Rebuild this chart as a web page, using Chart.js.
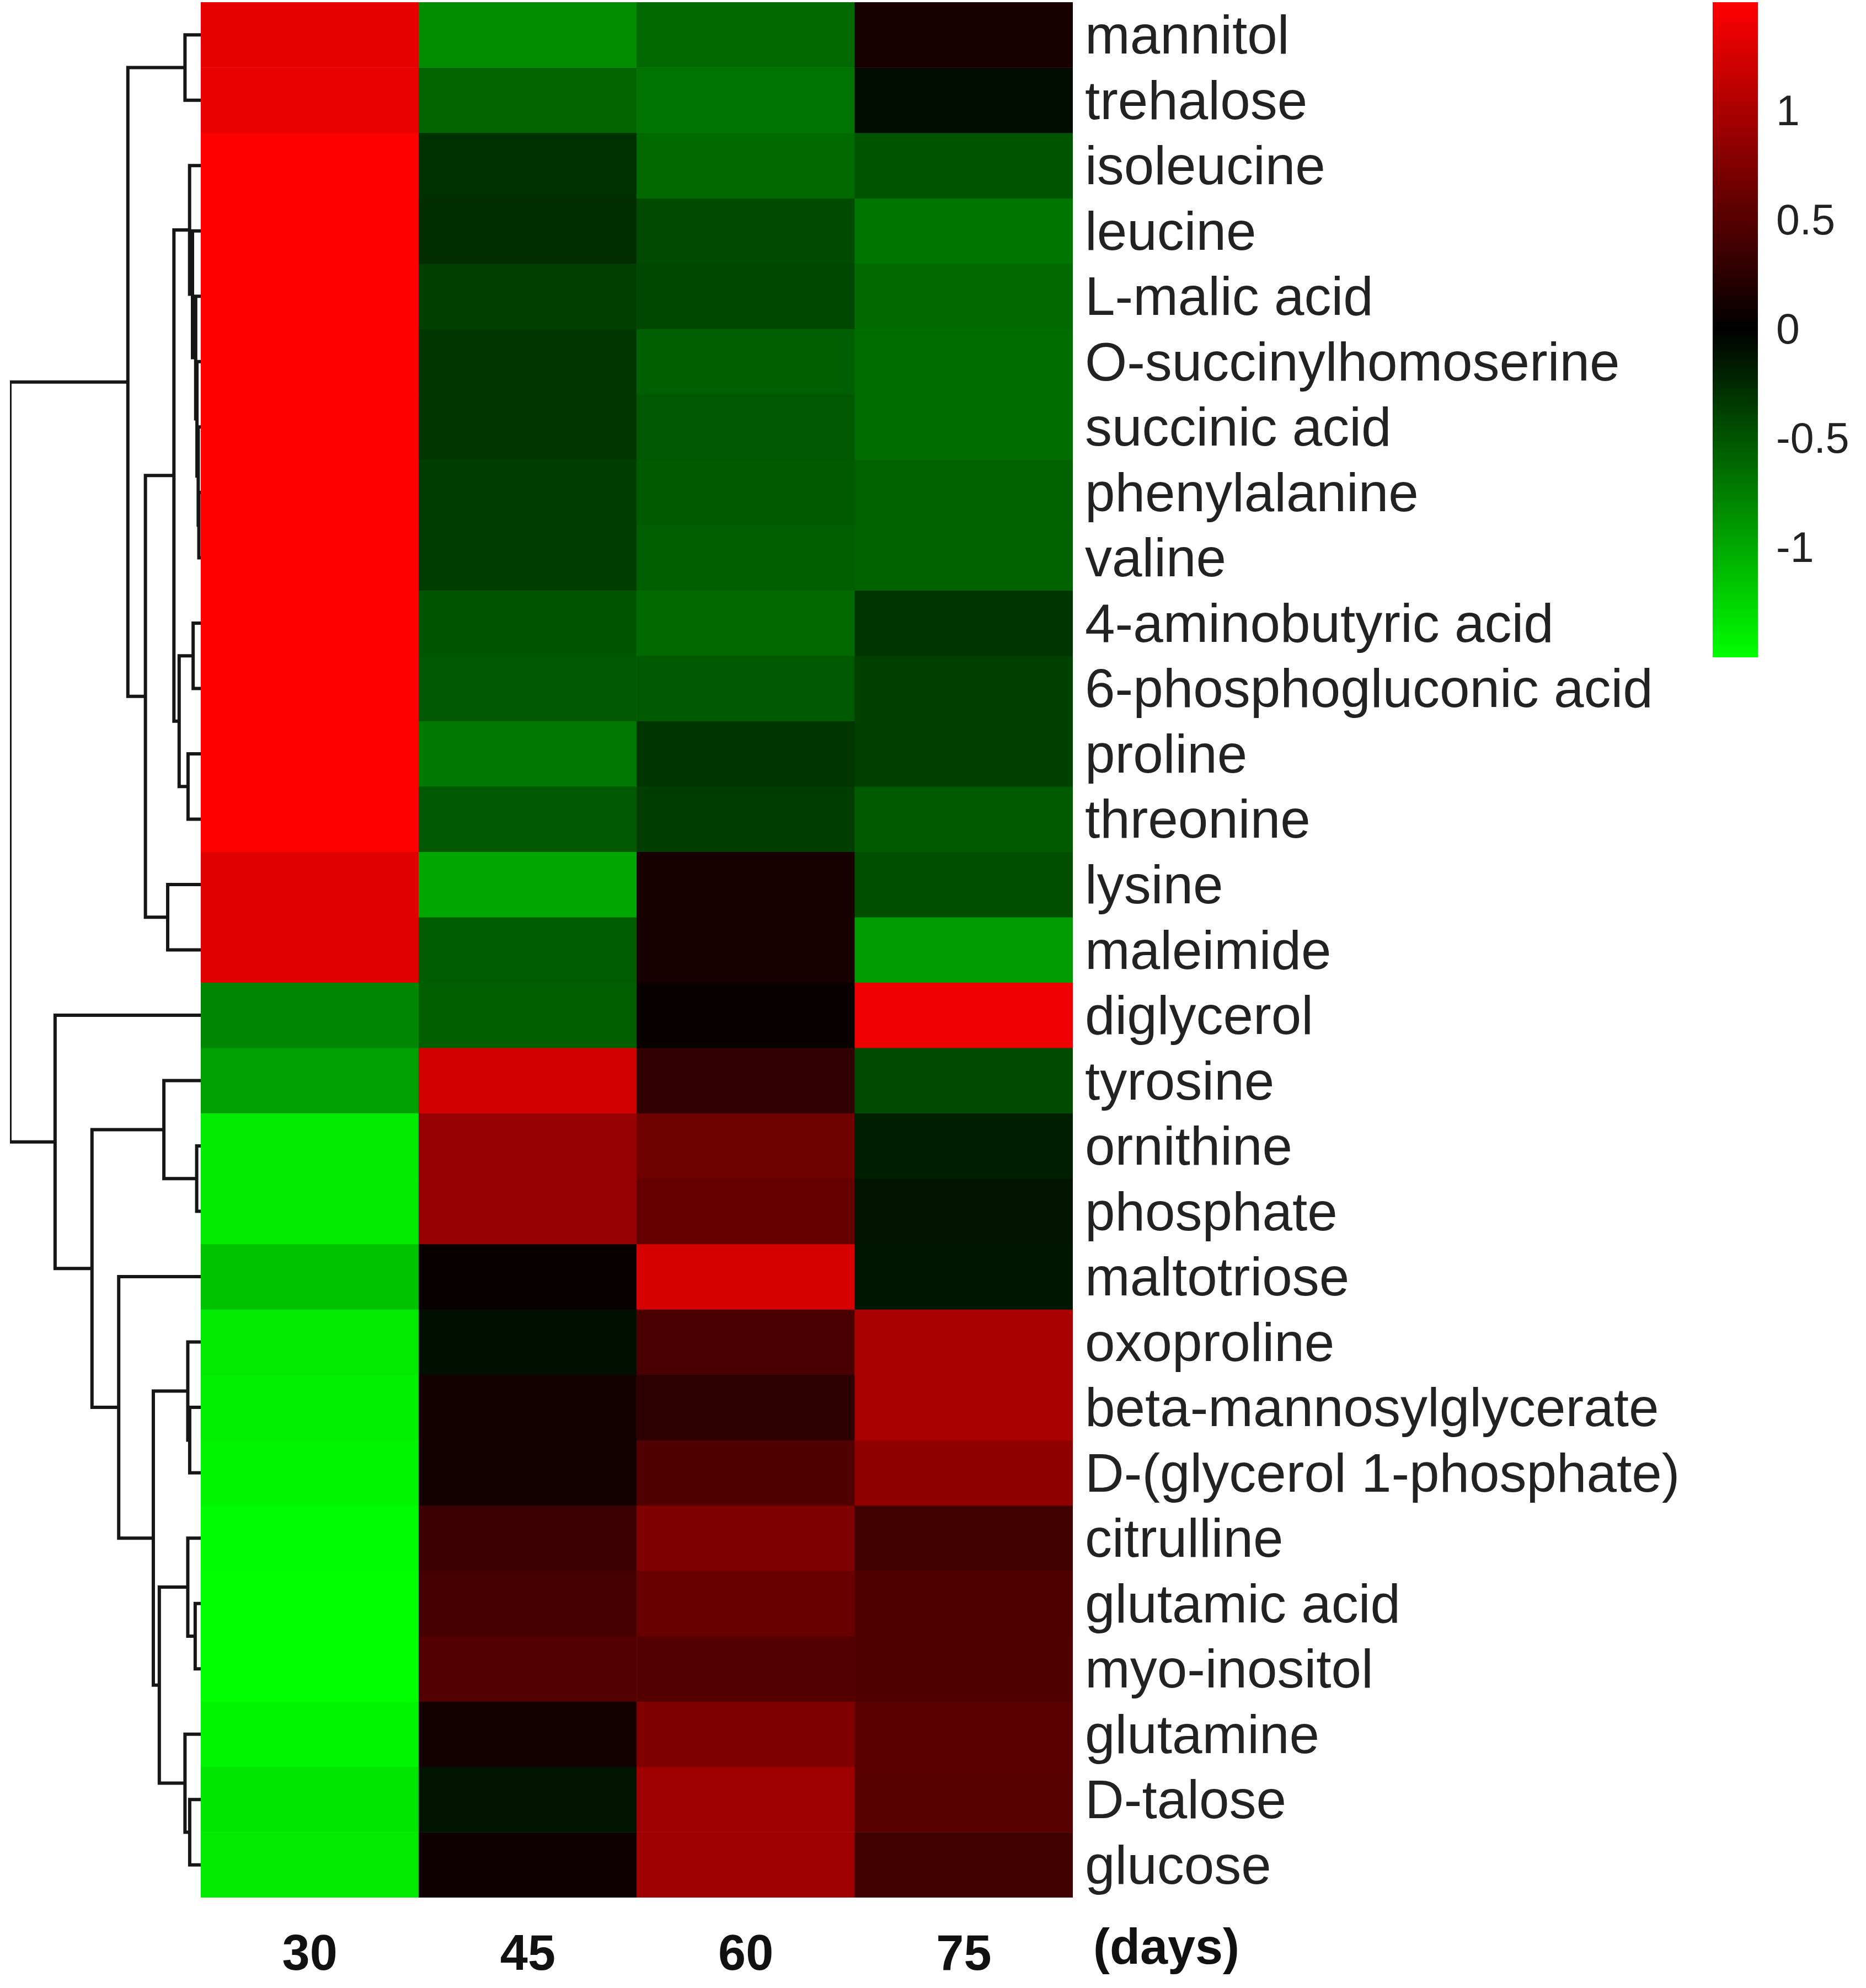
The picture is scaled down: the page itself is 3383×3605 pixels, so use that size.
<!DOCTYPE html>
<html>
<head>
<meta charset="utf-8">
<script src="https://cdn.jsdelivr.net/npm/chart.js@4.4.1/dist/chart.umd.min.js"></script>
<style>
  html, body { margin: 0; padding: 0; background: #fff; overflow: hidden; }
  canvas { position: absolute; top: 0; }
  #dendro { left: 0; }
  #heat { left: 364px; }
  #scale { left: 3105px; }
</style>
</head>
<body>
<canvas id="dendro" width="364" height="3605"></canvas>
<canvas id="heat" width="3019" height="3605"></canvas>
<canvas id="scale" width="278" height="1250"></canvas>
<script>
var metabolites = ["mannitol", "trehalose", "isoleucine", "leucine", "L-malic acid", "O-succinylhomoserine",
    "succinic acid", "phenylalanine", "valine", "4-aminobutyric acid", "6-phosphogluconic acid", "proline",
    "threonine", "lysine", "maleimide", "diglycerol", "tyrosine", "ornithine", "phosphate", "maltotriose",
    "oxoproline", "beta-mannosylglycerate", "D-(glycerol 1-phosphate)", "citrulline", "glutamic acid",
    "myo-inositol", "glutamine", "D-talose", "glucose"];
var days = ["30", "45", "60", "75"];
var daysUnit = "(days)";

// row-scaled values, one array per sampling day (same order as metabolites)
var day30 = [1.35, 1.38, 1.5, 1.5, 1.5, 1.5, 1.5, 1.5, 1.5, 1.5, 1.5, 1.5, 1.5, 1.32, 1.32,
    -0.79, -0.94, -1.38, -1.38, -1.15, -1.38, -1.41, -1.44, -1.48, -1.5, -1.5, -1.44, -1.35, -1.38];
var day45 = [-0.82, -0.59, -0.29, -0.26, -0.38, -0.32, -0.32, -0.36, -0.36, -0.5, -0.52, -0.71, -0.52, -0.99, -0.54,
    -0.56, 1.24, 0.88, 0.88, 0.05, -0.09, 0.12, 0.12, 0.36, 0.42, 0.5, 0.12, -0.12, 0.08];
var day60 = [-0.62, -0.68, -0.62, -0.44, -0.42, -0.56, -0.52, -0.53, -0.56, -0.62, -0.52, -0.31, -0.36, 0.15, 0.15,
    0.05, 0.29, 0.65, 0.59, 1.26, 0.44, 0.26, 0.47, 0.74, 0.62, 0.5, 0.75, 0.93, 0.93];
var day75 = [0.15, -0.07, -0.5, -0.69, -0.62, -0.64, -0.64, -0.58, -0.58, -0.31, -0.38, -0.38, -0.53, -0.46, -0.91,
    1.41, -0.44, -0.18, -0.12, -0.13, 1.0, 1.0, 0.85, 0.38, 0.46, 0.47, 0.53, 0.52, 0.38];

// row dendrogram, hclust style: negative = leaf (1-based row), positive = earlier merge; third = height
var merges = [
    [-1, -2, 12.4], [-8, -9, 1.5], [-7, 2, 2], [-6, 3, 3], [-5, 4, 4], [-4, 5, 6.5], [-3, 6, 8.8],
    [-10, -11, 6], [-12, -13, 10], [8, 9, 17], [7, 10, 21.1], [-14, -15, 26], [11, 12, 43.5], [1, 13, 57.3],
    [-18, -19, 3.2], [-17, 15, 29], [-22, -23, 8.7], [-21, 17, 10.2], [-25, -26, 4.4], [-24, 19, 10.2],
    [-28, -29, 8.7], [-27, 21, 12.4], [20, 22, 32.6], [18, 23, 37.3], [-20, 24, 64.5], [16, 25, 85.5],
    [-16, 26, 114.5], [14, 27, 150]
];

var scaleMin = -1.5, scaleMax = 1.5;
var scaleTicks = [-1, -0.5, 0, 0.5, 1];

Chart.defaults.font.family = '"Liberation Sans", Arial, Helvetica, sans-serif';
Chart.defaults.color = '#222';

function valueColor(v) {
    var t;
    if (v >= 0) {
        t = Math.min(v / scaleMax, 1);
        return 'rgb(' + Math.round(255 * t) + ',0,0)';
    }
    t = Math.min(v / scaleMin, 1);
    return 'rgb(0,' + Math.round(255 * t) + ',0)';
}

// labels must not push the plot area around
function noLabelPadding(s) {
    s.paddingTop = 0;
    s.paddingBottom = 0;
    s.paddingLeft = 0;
    s.paddingRight = 0;
}

// ---------- heatmap ----------
var columns = [day30, day45, day60, day75];
var heatDatasets = metabolites.map(function(name, i) {
    return {
        label: name,
        data: columns.map(function() { return 1; }),
        backgroundColor: columns.map(function(col) { return valueColor(col[i]); }),
        borderWidth: 0,
        barPercentage: 1,
        categoryPercentage: 1
    };
});

var daysUnitPlugin = {
    id: 'daysUnit',
    afterDraw: function(chart) {
        var c = chart.ctx, area = chart.chartArea;
        c.save();
        c.font = 'bold 90px "Liberation Sans", Arial, sans-serif';
        c.fillStyle = '#111';
        c.textAlign = 'left';
        c.textBaseline = 'top';
        c.fillText(daysUnit, area.right + 37, area.bottom + 50);
        c.restore();
    }
};

new Chart(document.getElementById('heat').getContext('2d'), {
    type: 'bar',
    data: { labels: days, datasets: heatDatasets },
    options: {
        responsive: false,
        animation: false,
        devicePixelRatio: 1,
        layout: { padding: { top: 4, left: 0, right: 0, bottom: 0 } },
        plugins: { legend: { display: false }, tooltip: { enabled: false } },
        scales: {
            x: {
                stacked: true,
                grid: { display: false, drawTicks: false },
                border: { display: false },
                ticks: { padding: 52, color: '#111', maxRotation: 0, autoSkip: false,
                    font: { size: 90, weight: 'bold' } },
                afterFit: function(s) { noLabelPadding(s); s.height = 164; }
            },
            y: { type: 'linear', stacked: true, min: 0, max: metabolites.length, reverse: true, display: false },
            yNames: {
                type: 'category',
                axis: 'y',
                position: 'right',
                labels: metabolites,
                offset: true,
                grid: { display: false, drawTicks: false },
                border: { display: false },
                ticks: { padding: 22, labelOffset: 7, autoSkip: false, color: '#222', font: { size: 98 } },
                afterFit: function(s) { noLabelPadding(s); s.width = 1438; }
            }
        }
    },
    plugins: [daysUnitPlugin]
});

// ---------- dendrogram ----------
function nodePos(id) {
    if (id < 0) return { x: 0, y: -id - 0.5 };
    var m = merges[id - 1];
    var a = nodePos(m[0]), b = nodePos(m[1]);
    return { x: m[2], y: (a.y + b.y) / 2 };
}

var dendroDatasets = merges.map(function(m) {
    var a = nodePos(m[0]), b = nodePos(m[1]);
    return {
        data: [{ x: a.x, y: a.y }, { x: m[2], y: a.y }, { x: m[2], y: b.y }, { x: b.x, y: b.y }],
        showLine: true,
        borderColor: '#161616',
        borderWidth: 6,
        pointRadius: 0,
        tension: 0
    };
});

new Chart(document.getElementById('dendro').getContext('2d'), {
    type: 'scatter',
    data: { datasets: dendroDatasets },
    options: {
        responsive: false,
        animation: false,
        devicePixelRatio: 1,
        layout: { padding: { top: 4, left: 18, right: 0, bottom: 164 } },
        plugins: { legend: { display: false }, tooltip: { enabled: false } },
        scales: {
            x: { type: 'linear', min: 0, max: 150, reverse: true, display: false },
            y: { type: 'linear', min: 0, max: metabolites.length, reverse: true, display: false }
        }
    }
});

// ---------- colour key ----------
new Chart(document.getElementById('scale').getContext('2d'), {
    type: 'bar',
    data: {
        labels: [''],
        datasets: [{
            data: [[scaleMin, scaleMax]],
            borderWidth: 0,
            barPercentage: 1,
            categoryPercentage: 1,
            backgroundColor: function(context) {
                var chart = context.chart;
                if (!chart.chartArea) return '#000';
                var y = chart.scales.y;
                var g = chart.ctx.createLinearGradient(0, y.getPixelForValue(scaleMax), 0, y.getPixelForValue(scaleMin));
                g.addColorStop(0, valueColor(scaleMax));
                g.addColorStop(scaleMax / (scaleMax - scaleMin), valueColor(0));
                g.addColorStop(1, valueColor(scaleMin));
                return g;
            }
        }]
    },
    options: {
        responsive: false,
        animation: false,
        devicePixelRatio: 1,
        layout: { padding: { top: 4, left: 0, right: 0, bottom: 58 } },
        plugins: { legend: { display: false }, tooltip: { enabled: false } },
        scales: {
            x: { display: false },
            y: {
                position: 'right',
                min: scaleMin,
                max: scaleMax,
                grid: { display: false, drawTicks: false },
                border: { display: false },
                afterBuildTicks: function(s) { s.ticks = scaleTicks.map(function(v) { return { value: v }; }); },
                ticks: { padding: 33, labelOffset: 4, color: '#222', font: { size: 77 },
                    callback: function(v) { return String(v); } },
                afterFit: function(s) { noLabelPadding(s); s.width = 196; }
            }
        }
    }
});
</script>
</body>
</html>
